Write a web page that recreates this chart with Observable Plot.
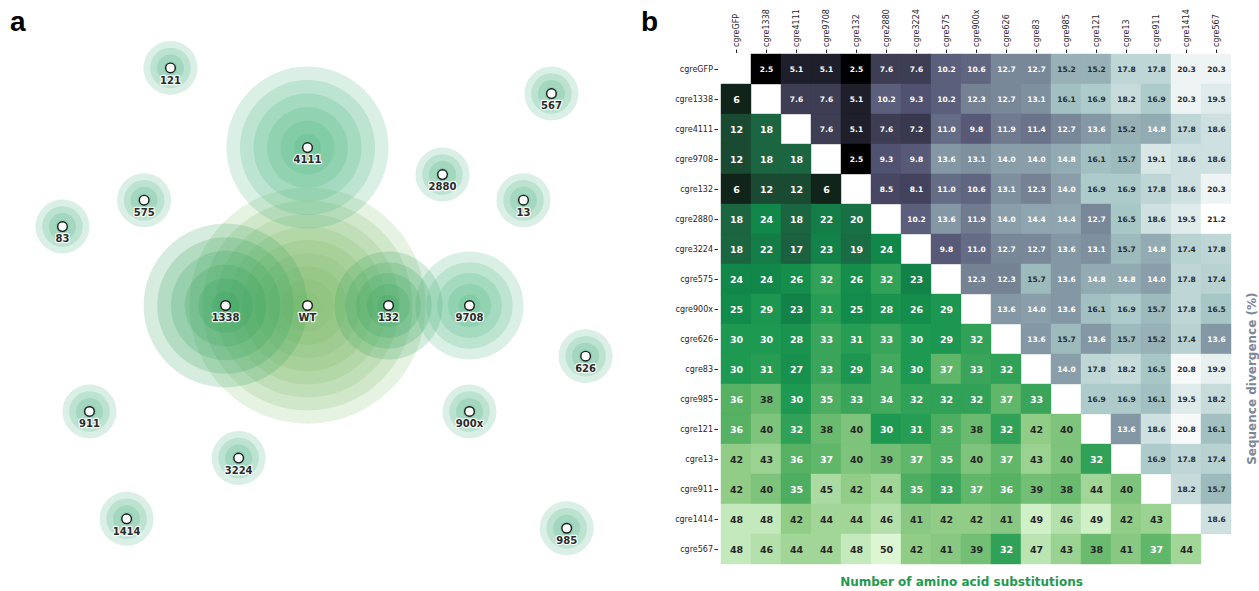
<!DOCTYPE html>
<html><head><meta charset="utf-8">
<script src="https://cdn.jsdelivr.net/npm/d3@7"></script>
<script src="https://cdn.jsdelivr.net/npm/@observablehq/plot@0.6"></script>
<style>
body{margin:0;background:#fff;}
#root{position:relative;width:1259px;height:591px;overflow:hidden;background:#fff;}
#root svg{position:absolute;top:0;}
.tag{position:absolute;top:8px;font:bold 28px "Liberation Sans",Arial,sans-serif;line-height:1;color:#000;}
</style></head><body><div id="root"><div class="tag" style="left:10px">a</div><div class="tag" style="left:641px">b</div></div>
<script>
// ---------- Panel a : network of variants ----------
const nodeNames = ["WT","1338","132","9708","4111","121","567","2880","575","13","83","626","911","900x","3224","1414","985"];
const nodeX = [0,-6.07,6.0,12.0,0,-10.15,18.07,10.0,-12.1,16.0,-18.15,20.6,-16.15,12.0,-5.1,-13.4,19.2];
const nodeY = [0,0,0,0,11.7,17.6,15.7,9.7,7.8,7.8,5.85,-3.75,-7.85,-7.85,-11.3,-15.8,-16.5];
const nodeRings = [9,6,5,5,6,4,4,4,4,4,4,4,4,4,4,4,4];
const nodeExtent = [8.75,6.07,4.0,4.0,6.0,2,2,2,2,2,2,2,2,2,2,2,2];
const nodeGroup = ["parent","hub","hub","branch","branch","leaf","leaf","leaf","leaf","leaf","leaf","leaf","leaf","leaf","leaf","leaf","leaf"];

// ---------- Panel b : pairwise comparison ----------
const strains = ["cgreGFP","cgre1338","cgre4111","cgre9708","cgre132","cgre2880","cgre3224","cgre575","cgre900x","cgre626","cgre83","cgre985","cgre121","cgre13","cgre911","cgre1414","cgre567"];
// lower triangle: number of amino acid substitutions (row i, columns 0..i-1)
const substitutionRows = [
  [],
  [6],
  [12,18],
  [12,18,18],
  [6,12,12,6],
  [18,24,18,22,20],
  [18,22,17,23,19,24],
  [24,24,26,32,26,32,23],
  [25,29,23,31,25,28,26,29],
  [30,30,28,33,31,33,30,29,32],
  [30,31,27,33,29,34,30,37,33,32],
  [36,38,30,35,33,34,32,32,32,37,33],
  [36,40,32,38,40,30,31,35,38,32,42,40],
  [42,43,36,37,40,39,37,35,40,37,43,40,32],
  [42,40,35,45,42,44,35,33,37,36,39,38,44,40],
  [48,48,42,44,44,46,41,42,42,41,49,46,49,42,43],
  [48,46,44,44,48,50,42,41,39,32,47,43,38,41,37,44]
];
// upper triangle: sequence divergence % (row i, columns i+1..16)
const divergenceRows = [
  [2.5,5.1,5.1,2.5,7.6,7.6,10.2,10.6,12.7,12.7,15.2,15.2,17.8,17.8,20.3,20.3],
  [7.6,7.6,5.1,10.2,9.3,10.2,12.3,12.7,13.1,16.1,16.9,18.2,16.9,20.3,19.5],
  [7.6,5.1,7.6,7.2,11.0,9.8,11.9,11.4,12.7,13.6,15.2,14.8,17.8,18.6],
  [2.5,9.3,9.8,13.6,13.1,14.0,14.0,14.8,16.1,15.7,19.1,18.6,18.6],
  [8.5,8.1,11.0,10.6,13.1,12.3,14.0,16.9,16.9,17.8,18.6,20.3],
  [10.2,13.6,11.9,14.0,14.4,14.4,12.7,16.5,18.6,19.5,21.2],
  [9.8,11.0,12.7,12.7,13.6,13.1,15.7,14.8,17.4,17.8],
  [12.3,12.3,15.7,13.6,14.8,14.8,14.0,17.8,17.4],
  [13.6,14.0,13.6,16.1,16.9,15.7,17.8,16.5],
  [13.6,15.7,13.6,15.7,15.2,17.4,13.6],
  [14.0,17.8,18.2,16.5,20.8,19.9],
  [16.9,16.9,16.1,19.5,18.2],
  [13.6,18.6,20.8,16.1],
  [16.9,17.8,17.4],
  [18.2,15.7],
  [18.6],
  []
];
const xTitle = "Number of amino acid substitutions";
const yTitle = "Sequence divergence (%)";

const root = document.getElementById("root");

// ----- panel a -----
const unit = 13.5;
const nodes = nodeNames.map((name, i) => ({name, x: nodeX[i], y: nodeY[i], rings: nodeRings[i], extent: nodeExtent[i], group: nodeGroup[i]}));
const rings = nodes.flatMap(n => d3.range(n.rings, 0, -1).map(k => ({...n, r: n.extent * k / n.rings})));
const wtRings = rings.filter(d => d.group === "parent");
const otherRings = rings.filter(d => d.group !== "parent");

const pa = Plot.plot({
  width: 640, height: 591, margin: 0,
  style: {background: "transparent", overflow: "visible"},
  x: {domain: [-307 / unit, (640 - 307) / unit], axis: null},
  y: {domain: [(305 - 591) / unit, 305 / unit], axis: null},
  r: {type: "linear", domain: [0, 1], range: [0, unit]},
  color: {domain: ["parent", "hub", "branch", "leaf"], range: ["#78b963", "#2ea15b", "#48b27d", "#45b07c"]},
  marks: [
    Plot.dot(wtRings, {x: "x", y: "y", r: "r", fill: "group", fillOpacity: 0.19}),
    Plot.dot(otherRings, {x: "x", y: "y", r: "r", fill: "group", fillOpacity: 0.2}),
    Plot.dot(nodes, {x: "x", y: "y", r: 4.8, fill: "white", stroke: "#1a1a1a", strokeWidth: 1.4}),
    Plot.text(nodes, {x: "x", y: "y", text: "name", dy: 12.5, fontFamily: "DejaVu Sans", fontWeight: "bold", fontSize: 10,
      fill: "#2a2a2a", stroke: "white", strokeWidth: 2.5, strokeOpacity: 0.9})
  ]
});
pa.style.left = "0px";
root.appendChild(pa);

// ----- panel b -----
const lower = [], upper = [];
strains.forEach((row, i) => strains.forEach((col, j) => {
  if (j < i) lower.push({row, col, value: substitutionRows[i][j]});
  if (j > i) upper.push({row, col, value: divergenceRows[i][j - i - 1]});
}));

const common = {
  width: 619, height: 591, marginLeft: 78, marginRight: 25, marginTop: 52, marginBottom: 25
};

const greenDomain = [6, 12, 18, 24, 30, 36, 42, 48, 50];
const greenRange = ["#10241a", "#1b4a33", "#1b6641", "#11884a", "#1e9951", "#56b163", "#92cd88", "#c3e9bc", "#dcf6d4"];

const pb1 = Plot.plot({
  ...common,
  style: {background: "transparent", fontFamily: "DejaVu Sans", fontSize: "8px", color: "#262626", overflow: "visible"},
  x: {domain: strains, axis: "top", tickRotate: -90, tickSize: 3.5, tickPadding: 2, label: null, padding: 0},
  y: {domain: strains, tickSize: 3.5, tickPadding: 2, label: null, padding: 0},
  color: {type: "linear", domain: greenDomain, range: greenRange},
  marks: [
    Plot.cell(lower, {x: "col", y: "row", fill: "value", stroke: "value", strokeWidth: 0.4, inset: 0}),
    Plot.text(lower, {x: "col", y: "row", text: d => String(d.value), fill: d => d.value >= 38 ? "#262626" : "#ffffff",
      fontWeight: "bold", fontSize: 9.5}),
    Plot.text([xTitle], {frameAnchor: "bottom", dx: -15, dy: 19, fill: "#1f9950", fontWeight: "bold", fontSize: 12})
  ]
});
pb1.style.left = "640px";
root.appendChild(pb1);

const [dmin, dmax] = d3.extent(upper, d => d.value);
const boneT = [0, 0.365079, 0.746032, 1];
const boneDomain = boneT.map(t => dmin + t * (dmax - dmin));
const boneRange = ["rgb(0,0,0)", "rgb(81,81,113)", "rgb(166,198,198)", "rgb(255,255,255)"];

const pb2 = Plot.plot({
  ...common,
  style: {background: "transparent", fontFamily: "DejaVu Sans", overflow: "visible"},
  x: {domain: strains, axis: null, padding: 0},
  y: {domain: strains, axis: null, padding: 0},
  color: {type: "linear", domain: boneDomain, range: boneRange},
  marks: [
    Plot.cell(upper, {x: "col", y: "row", fill: "value", stroke: "value", strokeWidth: 0.4, inset: 0}),
    Plot.text(upper, {x: "col", y: "row", text: d => d.value.toFixed(1), fill: d => d.value >= 15 ? "#2a2a2a" : "#ffffff",
      fontWeight: "bold", fontSize: 7.5}),
    Plot.text([yTitle], {frameAnchor: "right", rotate: -90, dx: 18, dy: -17, fill: "#7b879b", fontWeight: "bold", fontSize: 12})
  ]
});
pb2.style.left = "640px";
pb2.style.pointerEvents = "none";
root.appendChild(pb2);
</script>
</body></html>
